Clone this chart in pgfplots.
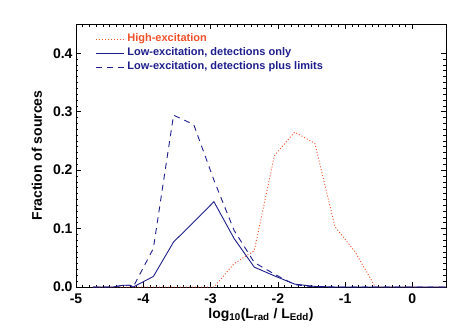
\documentclass[border=0pt]{standalone}
\usepackage{fontspec}
\setmainfont{Liberation Sans}
\usepackage{pgfplots}
\pgfplotsset{compat=1.18}

\definecolor{hiexc}{HTML}{F0502A}
\definecolor{loexc}{HTML}{1E1E8C}

\begin{document}
\begin{tikzpicture}
  \path[use as bounding box] (-76pt,-48pt) rectangle (393pt,287pt);
  \begin{axis}[
      at={(0,0)}, anchor=south west,
      scale only axis,
      width=370pt, height=263pt,
      xmin=-5, xmax=0.5,
      ymin=0, ymax=0.45,
      xtick={-5,-4,-3,-2,-1,0},
      xticklabels={-5,-4,-3,-2,-1,0},
      ytick={0,0.1,0.2,0.3,0.4},
      yticklabels={0.0,0.1,0.2,0.3,0.4},
      minor x tick num=9,
      minor y tick num=9,
      tick align=inside,
      xtick pos=both, ytick pos=both,
      major tick length=5pt,
      minor tick length=2.5pt,
      tick style={black, line width=0.6pt},
      axis line style={black, line width=0.8pt},
      ticklabel style={font=\fontsize{14}{16}\selectfont\bfseries},
      xticklabel style={yshift=-3pt},
      label style={font=\fontsize{14}{16}\selectfont\bfseries},
      xlabel={log\textsubscript{10}(L\textsubscript{rad} / L\textsubscript{Edd})},
      ylabel={Fraction of sources},
      xlabel style={at={(axis description cs:0.5,-0.12)}, anchor=base},
      ylabel style={at={(axis description cs:-0.092,0.5)}, anchor=base, rotate=0},
      legend cell align=left,
      legend style={
        at={(axis description cs:0.044,0.975)}, anchor=north west,
        draw=none, fill=none,
        font=\fontsize{11}{12}\selectfont\bfseries,
        row sep=1.5pt,
        nodes={inner sep=1pt, text height=8pt, text depth=2.5pt},
      },
      legend image code/.code={
        \draw[#1] (0pt,0pt) -- (28pt,0pt);
        \path (30pt,0pt);
      },
      every axis plot/.append style={line width=0.9pt},
    ]

    \addplot[hiexc, dash pattern=on 1pt off 2pt] coordinates {
      (-4.75,0) (-4.45,0) (-4.15,0) (-3.85,0) (-3.55,0) (-3.25,0)
      (-2.95,0) (-2.65,0.040) (-2.35,0.062) (-2.05,0.225) (-1.75,0.265)
      (-1.45,0.246) (-1.15,0.103) (-0.85,0.060) (-0.55,0) (-0.25,0)
      (0.05,0) (0.35,0) (0.5,0)
    };
    \addlegendentry{\textcolor{hiexc}{High-excitation}}

    \addplot[loexc, solid] coordinates {
      (-4.75,0) (-4.45,0) (-4.3,0.003) (-4.2,0.003) (-4.15,0) (-3.85,0.018)
      (-3.55,0.077) (-3.25,0.111) (-2.95,0.146) (-2.65,0.083) (-2.35,0.034)
      (-2.05,0.019) (-1.75,0.005) (-1.45,0.001) (-1.15,0) (-0.85,0)
      (-0.55,0) (-0.25,0) (0.05,0) (0.35,0) (0.5,0)
    };
    \addlegendentry{\textcolor{loexc}{Low-excitation, detections only}}

    \addplot[loexc, dash pattern=on 6pt off 5pt] coordinates {
      (-4.75,0) (-4.45,0) (-4.3,0.003) (-4.2,0.003) (-4.15,0) (-3.85,0.066)
      (-3.55,0.294) (-3.25,0.278) (-2.95,0.183) (-2.65,0.097) (-2.35,0.042)
      (-2.05,0.022) (-1.75,0.004) (-1.45,0) (-1.15,0) (-0.85,0)
      (-0.55,0) (-0.25,0) (0.05,0) (0.35,0) (0.5,0)
    };
    \addlegendentry{\textcolor{loexc}{Low-excitation, detections plus limits}}
  \end{axis}
\end{tikzpicture}
\end{document}
